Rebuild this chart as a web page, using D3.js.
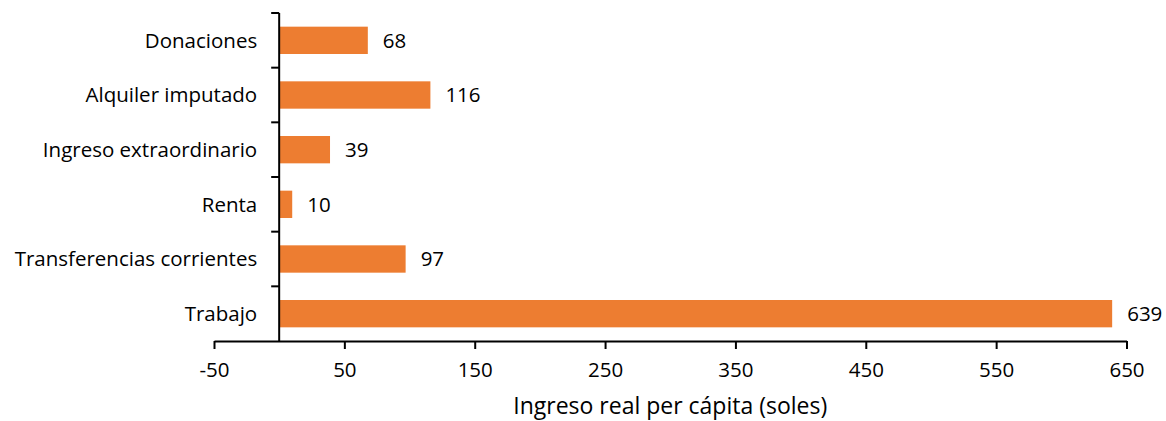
<!DOCTYPE html>
<html>
<head>
<meta charset="utf-8">
<script src="https://cdn.jsdelivr.net/npm/d3@7"></script>
<style>
  body { margin: 0; background: #fff; }
  svg text { font-family: "Open Sans", sans-serif; fill: #000; }
</style>
</head>
<body>
<svg id="chart" width="1166" height="421"></svg>
<script>
const categories = ["Donaciones", "Alquiler imputado", "Ingreso extraordinario", "Renta", "Transferencias corrientes", "Trabajo"];
const values = [68, 116, 39, 10, 97, 639];
const xTicks = [-50, 50, 150, 250, 350, 450, 550, 650];
const xTitle = "Ingreso real per cápita (soles)";

const svg = d3.select("#chart");
const margin = {top: 13, left: 214, right: 40, bottom: 80};
const width = 1126.5 - margin.left;
const height = 341 - margin.top;
const fs = "20.5px";

const g = svg.append("g")
  .attr("transform", "translate(" + margin.left + "," + margin.top + ")");

const x = d3.scaleLinear().domain([-50, 650]).range([0, width]);
const y = d3.scaleBand().domain(categories).range([0, height])
  .paddingInner(0.5).paddingOuter(0.25);

// bars
g.selectAll(".bar")
  .data(values)
  .enter().append("rect")
    .attr("class", "bar")
    .attr("x", x(0))
    .attr("y", (d, i) => y(categories[i]))
    .attr("width", d => x(d) - x(0))
    .attr("height", y.bandwidth())
    .attr("fill", "#ED7D31");

// value labels
g.selectAll(".val")
  .data(values)
  .enter().append("text")
    .attr("class", "val")
    .attr("x", d => x(d) + 15)
    .attr("y", (d, i) => y(categories[i]) + y.bandwidth() / 2)
    .attr("dy", "0.35em")
    .style("font-size", fs)
    .text(d => d);

// x axis
const xAxis = g.append("g")
  .attr("transform", `translate(0, ${height})`)
  .call(d3.axisBottom(x).tickValues(xTicks).tickSize(8).tickSizeOuter(0).tickPadding(13)
    .tickFormat(d => String(d)));
xAxis.select(".domain").attr("stroke", "#000").attr("stroke-width", 2);
xAxis.selectAll(".tick line").attr("stroke", "#000").attr("stroke-width", 2);
xAxis.selectAll(".tick text").style("font-size", fs).attr("font-family", null);

// y axis at zero with band-edge ticks
const yAxisG = g.append("g").attr("transform", `translate(${x(0)}, 0)`);
yAxisG.append("line")
  .attr("y1", 0).attr("y2", height)
  .attr("stroke", "#000").attr("stroke-width", 2);
const edgeY = d3.range(categories.length).map(i => y.step() * i);
yAxisG.selectAll(".ytick")
  .data(edgeY)
  .enter().append("line")
    .attr("x1", -8).attr("x2", 0)
    .attr("y1", d => d).attr("y2", d => d)
    .attr("stroke", "#000").attr("stroke-width", 2);

// category labels
g.selectAll(".cat")
  .data(categories)
  .enter().append("text")
    .attr("class", "cat")
    .attr("x", x(0) - 22)
    .attr("y", d => y(d) + y.bandwidth() / 2)
    .attr("dy", "0.35em")
    .attr("text-anchor", "end")
    .style("font-size", fs)
    .text(d => d);

// axis title
svg.append("text")
  .attr("x", margin.left + x(300))
  .attr("y", 414)
  .attr("text-anchor", "middle")
  .style("font-size", "23px")
  .text(xTitle);
</script>
</body>
</html>
